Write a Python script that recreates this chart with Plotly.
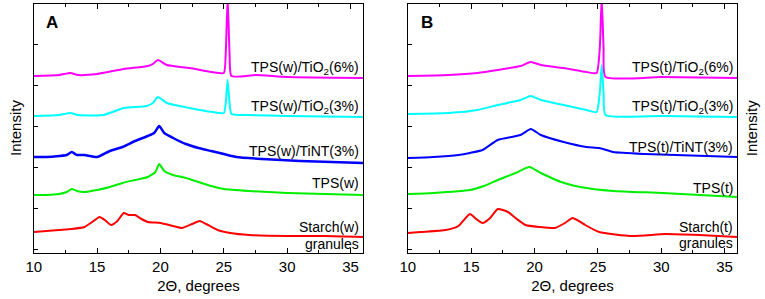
import plotly.graph_objects as go

# ---------------- data (intensity, arbitrary units) ----------------
# Panel A (w)
a_starch_x = [10, 11, 12, 13, 14, 14.5, 15.2, 15.6, 16.1, 16.6, 17.1, 17.5, 18, 18.5, 19, 20, 21, 21.7, 22.5, 23.1, 23.6, 24.5, 25.5, 27, 30, 33, 36]
a_starch_y = [21, 22, 23, 24, 26, 30, 36, 33, 28, 32, 40, 38, 38, 34, 31, 30, 27, 25, 29, 32, 29, 23, 20, 18, 17, 17, 16]

a_tps_x = [10, 11, 12, 12.6, 13, 13.4, 14, 15, 16, 17, 18, 19, 19.6, 19.9, 20.3, 21, 22, 23, 24, 25, 27, 30, 33, 36]
a_tps_y = [58, 58, 59, 61, 64, 62, 61, 63, 66, 70, 73, 76, 81, 89, 82, 78, 75, 71, 67, 64, 62, 60, 59, 58]

a_tint_x = [10, 11, 12, 12.6, 13, 13.4, 14, 15, 16, 17, 18, 19, 19.5, 19.9, 20.3, 21, 22, 23, 24, 25, 26, 28, 31, 36]
a_tint_y = [96, 96, 97, 98, 101, 98, 98, 96, 102, 106, 112, 117, 120, 127, 120, 115, 109, 105, 102, 99, 96, 94, 92, 90]

a_tio3_x = [10, 12, 12.9, 13.5, 15.5, 17.1, 18.9, 19.4, 19.8, 20.5, 22.3, 24.1, 25.0, 25.15, 25.3, 25.45, 25.6, 27, 30, 36]
a_tio3_y = [137, 138, 140, 138, 138, 145, 147, 150, 156, 150, 145, 141, 140, 150, 173, 150, 139, 138, 137, 136]

a_tio6_x = [10, 12, 12.9, 13.5, 15, 17.1, 19, 19.4, 19.8, 20.5, 22.3, 24, 25, 25.15, 25.3, 25.45, 25.6, 27.5, 30, 36]
a_tio6_y = [177, 178, 180, 178, 179, 184, 187, 189, 193, 188, 185, 181, 180, 200, 255, 200, 177, 178, 176, 175]

# Panel B (t)
b_starch_x = [10, 11, 13, 14, 14.9, 15.4, 15.9, 16.5, 17.1, 17.9, 18.5, 19.3, 20.4, 21.6, 22.4, 23, 23.5, 24, 25.1, 27.7, 30.3, 33, 36]
b_starch_y = [20, 21, 23, 27, 39, 34, 30, 35, 44, 41, 35, 28, 26, 25, 30, 35, 32, 28, 21, 17, 19, 18, 16]

b_tps_x = [10, 12, 14.9, 16, 17.1, 18.5, 19.6, 20.5, 22.1, 23.6, 26.2, 30.1, 36]
b_tps_y = [59, 60, 63, 67, 73, 80, 86, 80, 71, 66, 62, 60, 56]

b_tint_x = [10, 12, 14, 14.9, 15.9, 17.1, 18.9, 19.7, 20.5, 22.3, 24.1, 25.1, 26.2, 28.7, 36]
b_tint_y = [95, 96, 98, 100, 103, 113, 118, 124, 118, 111, 106, 105, 101, 99, 96]

b_tio3_x = [10, 13.2, 15.5, 17.1, 18.9, 19.7, 20.5, 22.3, 24.1, 24.9, 25.15, 25.3, 25.45, 25.6, 30, 36]
b_tio3_y = [139, 140, 143, 148, 153, 157, 153, 148, 143, 141, 160, 188, 160, 138, 137, 136]

b_tio6_x = [10, 13.2, 15.5, 17.1, 18.9, 19.7, 20.5, 22.3, 24.1, 24.9, 25.15, 25.3, 25.45, 25.6, 30, 36]
b_tio6_y = [177, 178, 180, 183, 187, 191, 188, 185, 181, 180, 205, 255, 205, 176, 176, 175]

colors = {"starch": "#ff0000", "tps": "#00ee00", "tint": "#0000ff", "tio3": "#00ffff", "tio6": "#ff00ff"}

labels_a = ["TPS(w)/TiO<sub>2</sub>(6%)", "TPS(w)/TiO<sub>2</sub>(3%)", "TPS(w)/TiNT(3%)", "TPS(w)", "Starch(w)", "granules"]
labels_a_y = [185, 146, 102, 70, 26, 9]
labels_b = ["TPS(t)/TiO<sub>2</sub>(6%)", "TPS(t)/TiO<sub>2</sub>(3%)", "TPS(t)/TiNT(3%)", "TPS(t)", "Starch(t)", "granules"]
labels_b_y = [185, 146, 106, 65, 26, 10]

x_ticks = [10, 15, 20, 25, 30, 35]

# ---------------- figure ----------------
FONT = "Arial, Liberation Sans, sans-serif"
fig = go.Figure()

series_a = [(a_starch_x, a_starch_y, "starch"), (a_tps_x, a_tps_y, "tps"), (a_tint_x, a_tint_y, "tint"),
            (a_tio3_x, a_tio3_y, "tio3"), (a_tio6_x, a_tio6_y, "tio6")]
series_b = [(b_starch_x, b_starch_y, "starch"), (b_tps_x, b_tps_y, "tps"), (b_tint_x, b_tint_y, "tint"),
            (b_tio3_x, b_tio3_y, "tio3"), (b_tio6_x, b_tio6_y, "tio6")]

for xs, ys, k in series_a:
    fig.add_trace(go.Scatter(x=xs, y=ys, mode="lines",
                             line=dict(color=colors[k], width=2.5 if k == "tint" else 2,
                                       shape="spline", smoothing=0.5),
                             xaxis="x", yaxis="y", showlegend=False, hoverinfo="skip"))
for xs, ys, k in series_b:
    fig.add_trace(go.Scatter(x=xs, y=ys, mode="lines",
                             line=dict(color=colors[k], width=2, shape="spline", smoothing=0.5),
                             xaxis="x2", yaxis="y2", showlegend=False, hoverinfo="skip"))

W, H = 765, 299
def xdom(l, r):
    return [l / W, r / W]
ydom = [1 - 253 / H, 1 - 4 / H]

xcommon = dict(range=[10, 36], tickvals=x_ticks, ticks="inside", ticklen=5, tickwidth=1,
               tickcolor="black", showline=True, linecolor="black", linewidth=1, mirror="ticks",
               showgrid=False, zeroline=False,
               tickfont=dict(family=FONT, size=15, color="black"),
               minor=dict(dtick=2.5, tick0=10, ticks="inside", ticklen=3, tickcolor="black", showgrid=False),
               title=dict(text="2Θ, degrees", font=dict(family=FONT, size=15, color="black"), standoff=6))
ycommon = dict(range=[0, 249], tick0=4, dtick=41, ticks="inside", ticklen=4, tickcolor="black",
               showticklabels=False, showline=True, linecolor="black", linewidth=1, mirror=True,
               showgrid=False, zeroline=False)

fig.update_layout(
    width=W, height=H, autosize=False, margin=dict(l=0, r=0, t=0, b=0),
    paper_bgcolor="white", plot_bgcolor="white",
    xaxis=dict(domain=xdom(26, 359), anchor="y", **xcommon),
    yaxis=dict(domain=ydom, anchor="x", **ycommon),
    xaxis2=dict(domain=xdom(404, 737), anchor="y2", **xcommon),
    yaxis2=dict(domain=ydom, anchor="x2", **ycommon),
)

ann = []
for t, yv in zip(labels_a, labels_a_y):
    ann.append(dict(x=35.85, y=yv, xref="x", yref="y", text=t, showarrow=False, xanchor="right",
                    yanchor="middle", font=dict(family=FONT, size=14, color="black")))
for t, yv in zip(labels_b, labels_b_y):
    ann.append(dict(x=35.85, y=yv, xref="x2", yref="y2", text=t, showarrow=False, xanchor="right",
                    yanchor="middle", font=dict(family=FONT, size=14, color="black")))
ann.append(dict(x=44 / W, y=1 - 23 / H, xref="paper", yref="paper", text="<b>A</b>", showarrow=False,
                xanchor="center", yanchor="middle", font=dict(family=FONT, size=17, color="black")))
ann.append(dict(x=423 / W, y=1 - 23 / H, xref="paper", yref="paper", text="<b>B</b>", showarrow=False,
                xanchor="center", yanchor="middle", font=dict(family=FONT, size=17, color="black")))
ann.append(dict(x=8 / W, y=1 - 128 / H, xref="paper", yref="paper", text="Intensity", showarrow=False,
                textangle=-90, xanchor="center", yanchor="middle", font=dict(family=FONT, size=15, color="black")))
ann.append(dict(x=752 / W, y=1 - 128 / H, xref="paper", yref="paper", text="Intensity", showarrow=False,
                textangle=-90, xanchor="center", yanchor="middle", font=dict(family=FONT, size=15, color="black")))
fig.update_layout(annotations=ann)

fig.write_html("out.html", config={"displayModeBar": False, "responsive": False},
               post_script="document.body.style.margin='0px';document.body.style.overflow='hidden';"
                           "document.documentElement.style.overflow='hidden';")
